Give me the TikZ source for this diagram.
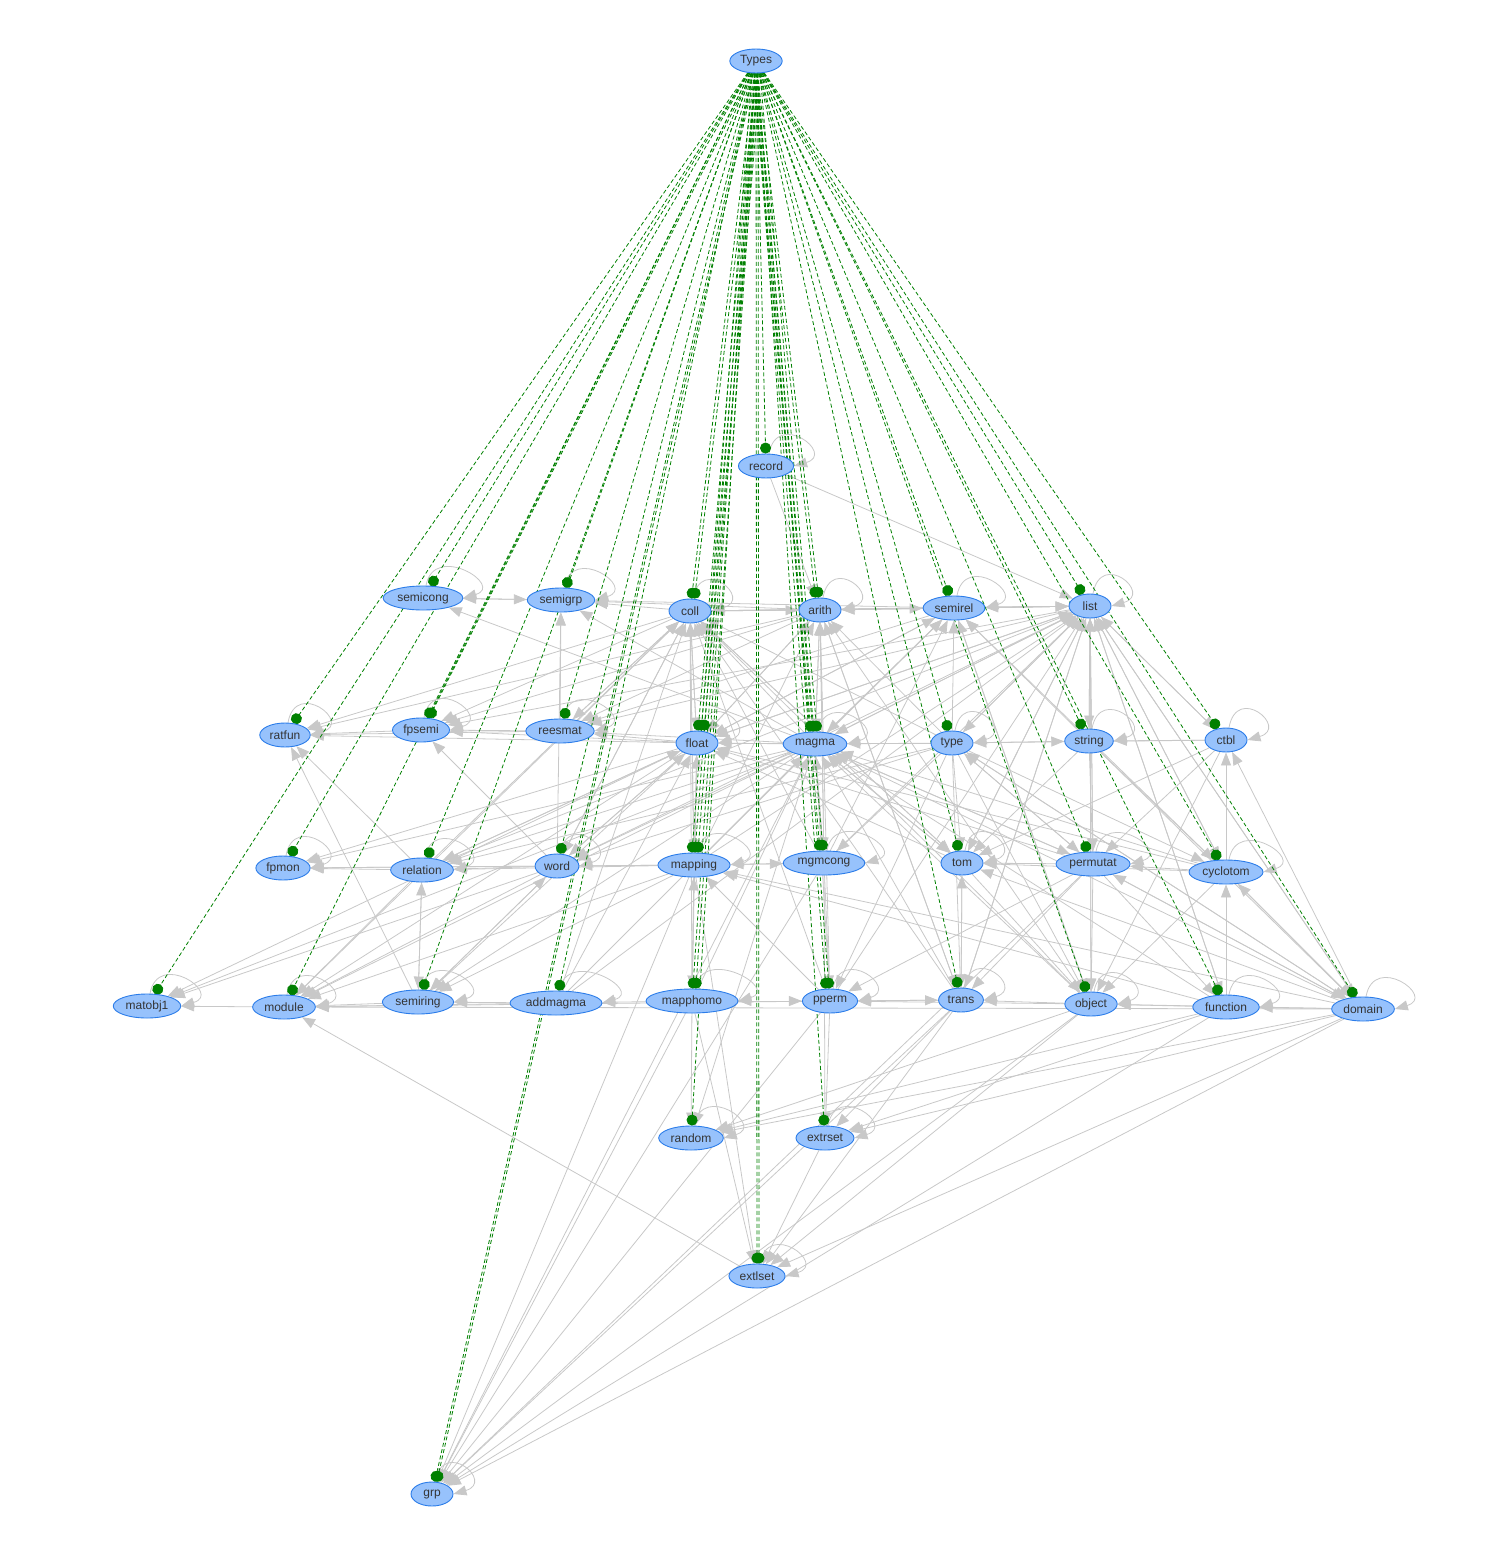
\documentclass[tikz,border=0pt]{standalone}
\usepackage{fontspec}
\setmainfont{Liberation Sans}
\usetikzlibrary{arrows.meta,shapes.geometric,backgrounds}
\definecolor{pkgfill}{HTML}{97C2FC}
\definecolor{pkgline}{HTML}{2B7CE9}
\definecolor{pkgtext}{HTML}{343434}
\definecolor{deplink}{HTML}{008000}
\definecolor{uselink}{HTML}{C8C8C8}
\begin{document}
\begin{tikzpicture}
	[x=1pt,y=-1pt,
	pkg/.style={draw=pkgline,fill=pkgfill,ellipse,line width=.9pt,text=pkgtext,
		font=\fontsize{12}{14}\selectfont,inner xsep=2.5pt,inner ysep=0pt,
		minimum width=42pt,minimum height=24pt},
	dep/.style={color=deplink,line width=.8pt,dash pattern=on 4pt off 2.5pt,-{Circle[length=11pt]}},
	twin/.style={transform canvas={xshift=#1}},
	use/.style={color=uselink,line width=.8pt,-{Triangle[length=13pt,width=10pt]}},
	self/.style={use,to path={([xshift=3pt]\tikztostart.north) .. controls +(8pt,44pt) and +(42pt,12pt) .. (\tikztotarget.east)}}]
	\useasboundingbox (0,0) rectangle (1509,1557);
	% top
	\node[pkg] (Types) at (756,61) {Types};
	\node[pkg] (record) at (766,466) {record};
	% first row
	\node[pkg] (semicong) at (423,598) {semicong};
	\node[pkg] (semigrp) at (561,600) {semigrp};
	\node[pkg] (coll) at (690,611) {coll};
	\node[pkg] (arith) at (820,610) {arith};
	\node[pkg] (semirel) at (954,608) {semirel};
	\node[pkg] (list) at (1090,606) {list};
	% second row
	\node[pkg] (ratfun) at (285,735) {ratfun};
	\node[pkg] (fpsemi) at (421,730) {fpsemi};
	\node[pkg] (reesmat) at (560,731) {reesmat};
	\node[pkg] (float) at (697,743) {float};
	\node[pkg] (magma) at (815,744) {magma};
	\node[pkg] (type) at (952,743) {type};
	\node[pkg] (string) at (1089,741) {string};
	\node[pkg] (ctbl) at (1226,740) {ctbl};
	% third row
	\node[pkg] (fpmon) at (283,868) {fpmon};
	\node[pkg] (relation) at (422,870) {relation};
	\node[pkg] (word) at (557,866) {word};
	\node[pkg] (mapping) at (694,865) {mapping};
	\node[pkg] (mgmcong) at (824,863) {mgmcong};
	\node[pkg] (tom) at (962,863) {tom};
	\node[pkg] (permutat) at (1093,864) {permutat};
	\node[pkg] (cyclotom) at (1226,872) {cyclotom};
	% fourth row
	\node[pkg] (matobj1) at (147,1006) {matobj1};
	\node[pkg] (module) at (284,1007) {module};
	\node[pkg] (semiring) at (418,1002) {semiring};
	\node[pkg] (addmagma) at (556,1003) {addmagma};
	\node[pkg] (mapphomo) at (692,1001) {mapphomo};
	\node[pkg] (pperm) at (830,1001) {pperm};
	\node[pkg] (trans) at (961,1000) {trans};
	\node[pkg] (object) at (1091,1004) {object};
	\node[pkg] (function) at (1226,1007) {function};
	\node[pkg] (domain) at (1363,1009) {domain};
	% bottom
	\node[pkg] (random) at (691,1138) {random};
	\node[pkg] (extrset) at (825,1138) {extrset};
	\node[pkg] (extlset) at (757,1276) {extlset};
	\node[pkg] (grp) at (432,1494) {grp};
	\begin{scope}[on background layer]
	% uses between packages
	\path[use] (record) edge (arith) edge (list);
	\path[use] (semicong) edge (semigrp);
	\path[use] (semigrp) edge (semicong);
	\path[use] (coll) edge (semigrp) edge (arith) edge (float) edge (semirel) edge (list) edge (fpsemi)
		edge (reesmat) edge (ratfun) edge (mapping) edge (word) edge (module) edge (tom);
	\path[use] (arith) edge (semigrp) edge (magma) edge (coll) edge (list) edge (fpsemi) edge (ratfun)
		edge (reesmat) edge (float) edge (mgmcong) edge (trans);
	\path[use] (semirel) edge (arith) edge (semigrp) edge (list) edge (float) edge (reesmat) edge (magma) edge (object);
	\path[use] (list) edge (semirel) edge (arith) edge (coll) edge (string) edge (ctbl) edge (float) edge (type)
		edge (tom) edge (permutat) edge (cyclotom) edge (domain) edge (function) edge (object) edge (trans)
		edge (magma) edge (reesmat) edge (fpsemi);
	\path[use] (fpsemi) edge (ratfun);
	\path[use] (reesmat) edge (fpsemi) edge (semigrp) edge (ratfun) edge (coll);
	\path[use] (float) edge (coll) edge (mapping) edge (reesmat) edge (fpsemi) edge (ratfun) edge (arith)
		edge (semirel) edge (list) edge (module) edge (matobj1) edge (relation) edge (semiring) edge (fpmon) edge (word);
	\path[use] (magma) edge (float) edge (arith) edge (coll) edge (semirel) edge (list) edge (mgmcong)
		edge (semicong) edge (semigrp) edge (reesmat) edge (word) edge (relation) edge (module) edge (semiring)
		edge (matobj1) edge (fpmon) edge (grp) edge (tom) edge (random) edge (permutat);
	\path[use] (type) edge (magma) edge (semirel) edge (string) edge (arith) edge (coll) edge (list) edge (float)
		edge (tom) edge (permutat) edge (cyclotom) edge (domain) edge (object) edge (trans) edge (mgmcong)
		edge (relation) edge (word) edge (pperm);
	\path[use] (string) edge (permutat) edge (list) edge (semirel) edge (tom) edge (cyclotom) edge (domain);
	\path[use] (ctbl) edge (string) edge (list) edge (type) edge (tom) edge (object) edge (permutat);
	\path[use] (relation) edge (fpmon) edge (ratfun) edge (coll) edge (float) edge (module) edge (semiring) edge (list);
	\path[use] (word) edge (relation) edge (fpsemi) edge (module) edge (matobj1) edge (semiring) edge (fpmon)
		edge (float) edge (list) edge (coll) edge (semigrp);
	\path[use] (mapping) edge (word) edge (mgmcong) edge (mapphomo) edge (float) edge (coll) edge (arith)
		edge (list) edge (semirel) edge (module) edge (semiring) edge (relation) edge (fpmon) edge (grp)
		edge (extlset) edge (magma);
	\path[use] (mgmcong) edge (mapping) edge (pperm) edge (magma) edge (arith) edge (list) edge (coll)
		edge (semirel) edge (extrset) edge (grp);
	\path[use] (tom) edge (trans) edge (object) edge (list) edge (magma) edge (float) edge (coll);
	\path[use] (permutat) edge (tom) edge (list) edge (object) edge (trans) edge (type) edge (magma)
		edge (float) edge (pperm) edge (grp) edge (function) edge (domain);
	\path[use] (cyclotom) edge (permutat) edge (ctbl) edge (list) edge (object) edge (tom) edge (magma)
		edge (float) edge (semirel) edge (domain);
	\path[use] (module) edge (matobj1);
	\path[use] (semiring) edge (module) edge (ratfun) edge (word) edge (relation);
	\path[use] (addmagma) edge (semiring) edge (module) edge (float) edge (coll) edge (magma) edge (list);
	\path[use] (mapphomo) edge (addmagma) edge (mapping) edge (magma) edge (float) edge (coll) edge (grp)
		edge (random) edge (extlset) edge (pperm);
	\path[use] (pperm) edge (mapphomo) edge (trans) edge (magma) edge (mapping) edge (coll) edge (arith)
		edge (list) edge (extrset) edge (grp) edge (module);
	\path[use] (trans) edge (pperm) edge (tom) edge (list) edge (arith) edge (coll) edge (magma)
		edge (extrset) edge (extlset) edge (grp);
	\path[use] (object) edge (trans) edge (list) edge (semirel) edge (coll) edge (arith) edge (magma)
		edge (grp) edge (extlset) edge (random) edge (pperm);
	\path[use] (function) edge (object) edge (list) edge (magma) edge (grp) edge (extrset) edge (random)
		edge (mapping) edge (cyclotom);
	\path[use] (domain) edge (function) edge (list) edge (cyclotom) edge (ctbl) edge (permutat) edge (tom)
		edge (magma) edge (type) edge (grp) edge (extlset) edge (extrset) edge (random) edge (module)
		edge (object) edge (mapping);
	\path[use] (extrset) edge (extlset);
	\path[use] (extlset) edge (module);
	% self uses
	\path[self] (record) edge (record) (semicong) edge (semicong) (semigrp) edge (semigrp)
		(coll) edge (coll) (arith) edge (arith) (semirel) edge (semirel) (list) edge (list)
		(ratfun) edge (ratfun) (fpsemi) edge (fpsemi) (reesmat) edge (reesmat) (float) edge (float)
		(magma) edge (magma) (type) edge (type) (string) edge (string) (ctbl) edge (ctbl)
		(fpmon) edge (fpmon) (relation) edge (relation) (word) edge (word) (mapping) edge (mapping)
		(mgmcong) edge (mgmcong) (tom) edge (tom) (permutat) edge (permutat) (cyclotom) edge (cyclotom)
		(matobj1) edge (matobj1) (module) edge (module) (semiring) edge (semiring) (addmagma) edge (addmagma)
		(mapphomo) edge (mapphomo) (pperm) edge (pperm) (trans) edge (trans) (object) edge (object)
		(function) edge (function) (domain) edge (domain) (random) edge (random) (extrset) edge (extrset)
		(extlset) edge (extlset) (grp) edge (grp);
	% Types to every package
	\path[dep] (Types) edge (record) edge (semicong) edge (semigrp) edge (coll) edge[twin=3pt] (coll)
		edge (arith) edge[twin=-3pt] (arith) edge (semirel) edge (list) edge (ratfun) edge (fpsemi)
		edge[twin=2pt] (fpsemi) edge (reesmat) edge (float) edge[twin=3pt] (float)
		edge[twin=6pt] (float) edge (magma) edge[twin=-3pt] (magma) edge[twin=3pt] (magma)
		edge (type) edge (string) edge (ctbl) edge (fpmon) edge (relation) edge (word)
		edge (mapping) edge[twin=3pt] (mapping) edge[twin=-3pt] (mapping) edge (mgmcong)
		edge[twin=-3pt] (mgmcong) edge (tom) edge (permutat) edge (cyclotom) edge (matobj1)
		edge (module) edge (semiring) edge (addmagma) edge (mapphomo) edge[twin=3pt] (mapphomo)
		edge (pperm) edge[twin=-3pt] (pperm) edge (trans) edge (object) edge (function)
		edge (domain) edge (random) edge (extrset) edge (extlset) edge[twin=2pt] (extlset)
		edge (grp) edge[twin=2pt] (grp);
	\end{scope}
\end{tikzpicture}
\end{document}
